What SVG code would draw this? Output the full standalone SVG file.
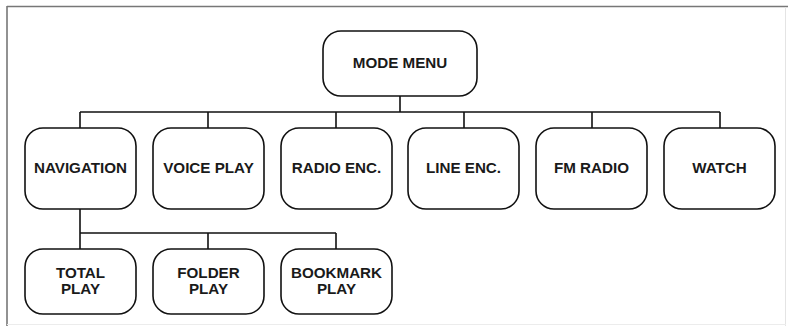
<svg xmlns="http://www.w3.org/2000/svg" width="788" height="326" viewBox="0 0 788 326">
<style>
.box{fill:#fff;stroke:#111;stroke-width:1.6}
.t{font-family:"Liberation Sans",Arial,sans-serif;font-weight:bold;font-size:15.2px;fill:#1a1a1a;text-anchor:middle}
.c{fill:none;stroke:#111;stroke-width:1.6}
</style>
<rect width="788" height="326" fill="#fff"/>
<g id="frame">
<line x1="7" y1="6.5" x2="788" y2="6.5" stroke="#777" stroke-width="1.6"/>
<line x1="7" y1="6" x2="7" y2="326" stroke="#777" stroke-width="1.6"/>
<line x1="785.5" y1="7" x2="785.5" y2="326" stroke="#e4e4e4" stroke-width="1"/>
<line x1="7" y1="324.5" x2="786" y2="324.5" stroke="#ececec" stroke-width="1"/>
</g>
<g id="connectors">
<path class="c" d="M400 96V112M80 112H720M80 112V128M208 112V128M336 112V128M464 112V128M592 112V128M720 112V128"/>
<path class="c" d="M80 209V249M80 233H336M208 233V249M336 233V249"/>
</g>
<g id="mode-menu"><rect class="box" x="323" y="31" width="154" height="65" rx="18"/><text class="t" x="400" y="67.5">MODE MENU</text></g>
<g id="navigation"><rect class="box" x="25" y="128" width="111" height="81" rx="18"/><text class="t" x="80.5" y="172.5">NAVIGATION</text></g>
<g id="voice-play"><rect class="box" x="153" y="128" width="111" height="81" rx="18"/><text class="t" x="208.5" y="172.5">VOICE PLAY</text></g>
<g id="radio-enc"><rect class="box" x="281" y="128" width="111" height="81" rx="18"/><text class="t" x="336.5" y="172.5">RADIO ENC.</text></g>
<g id="line-enc"><rect class="box" x="408" y="128" width="111" height="81" rx="18"/><text class="t" x="463.5" y="172.5">LINE ENC.</text></g>
<g id="fm-radio"><rect class="box" x="536" y="128" width="111" height="81" rx="18"/><text class="t" x="591.5" y="172.5">FM RADIO</text></g>
<g id="watch"><rect class="box" x="664" y="128" width="111" height="81" rx="18"/><text class="t" x="719.5" y="172.5">WATCH</text></g>
<g id="total-play"><rect class="box" x="25" y="249" width="111" height="65" rx="18"/><text class="t" x="80.5" y="278">TOTAL</text><text class="t" x="80.5" y="294">PLAY</text></g>
<g id="folder-play"><rect class="box" x="153" y="249" width="111" height="65" rx="18"/><text class="t" x="208.5" y="278">FOLDER</text><text class="t" x="208.5" y="294">PLAY</text></g>
<g id="bookmark-play"><rect class="box" x="281" y="249" width="111" height="65" rx="18"/><text class="t" x="336.5" y="278">BOOKMARK</text><text class="t" x="336.5" y="294">PLAY</text></g>
</svg>
